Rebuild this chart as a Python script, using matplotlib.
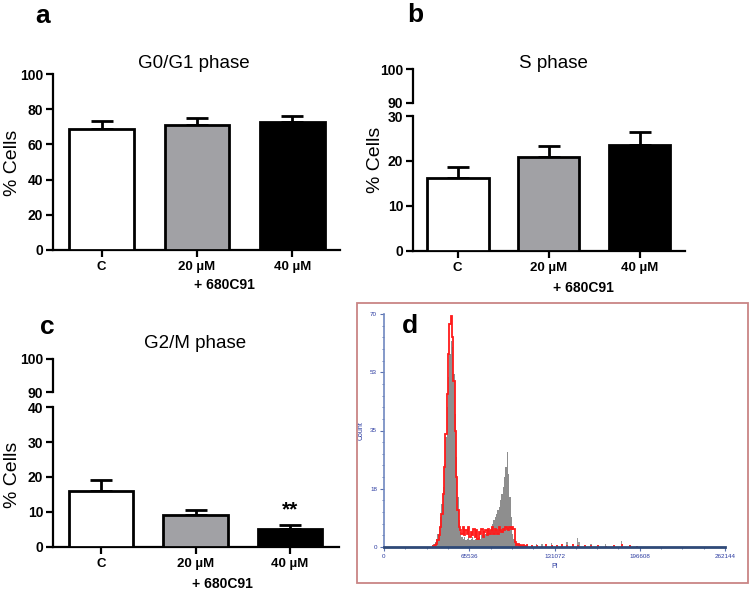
import matplotlib
matplotlib.use("Agg")
import matplotlib.pyplot as plt
from matplotlib.patches import Rectangle
import numpy as np

plt.rcParams['font.family'] = ['Liberation Sans', 'DejaVu Sans']

# ---------------- data ----------------
categories = ["C", "20 µM", "40 µM"]
bar_colors = ["white", "#a1a1a5", "black"]

g1_means = [68.7, 71.2, 72.5]
g1_errs = [4.6, 4.0, 3.5]

s_means = [16.2, 20.8, 23.6]
s_errs = [2.4, 2.5, 2.9]

g2_means = [16.1, 9.1, 5.0]
g2_errs = [3.1, 1.4, 1.2]

# flow cytometry histogram (bin width 1024 PI units, first bin index 36)
hist_bin_width = 1024
hist_first_bin = 36
red_counts = [0, 0.3, 0.5, 1, 2, 3.5, 6, 10, 16, 24, 34, 46, 58, 67, 69.5,
              63, 50, 35, 21, 11, 6, 5,
              4, 6, 3.5, 5, 4, 6, 3, 4.5, 3.5, 5.5, 3,
              5, 2.5, 4.5, 4, 5.5, 3, 4.5, 5, 3.5, 5.5, 4, 5, 6, 4, 5.5, 5,
              4, 6, 5, 4.5, 5.5, 5, 6, 5.5, 5, 6, 5.5, 6, 5.5, 1.5, 0.5,
              0.8, 0.3, 0.5, 0.3, 0.5, 0.4, 0.3, 0.5]
grey_counts = [0.5, 0.8, 1.5, 2.5, 4, 6, 9, 13, 18, 25, 33, 42, 51, 58, 62,
               60, 52, 40, 27, 15, 8, 4.5,
               3, 2.5, 3, 2, 2.5, 3, 2, 2.5, 3, 2, 2.5,
               3, 2.5, 3, 2.5, 3.5, 3, 3.5, 4, 3.5, 4.5, 5, 6, 7, 8, 9, 10,
               11, 12, 14, 16, 18, 21, 24, 28.5, 22, 15, 9, 4, 2.5, 1.5, 1,
               0.8, 0.5, 0.3, 0.4, 0.2, 0.3, 0.2, 0.3]
tail_bins = [110, 114, 118, 121, 125, 129, 133, 137, 141, 145, 146, 150, 155,
             160, 166, 172, 178, 184, 189]
tail_grey = [0.6, 0.8, 1.0, 0.5, 1.2, 0.7, 1.0, 1.5, 0.8, 2.8, 1.6, 0.6, 0.9,
             0.5, 0.8, 0.4, 1.8, 0.6, 0.3]
tail_red = [0.5, 0.6, 0.4, 0.8, 0.5, 0.7, 0.9, 0.6, 0.8, 0.7, 0.4, 0.6, 0.5,
            0.7, 0.4, 0.6, 0.8, 0.5, 0.3]
hist_xticks = [0, 65536, 131072, 196608, 262144]
hist_yticks = [0, 17.5, 35, 52.5, 70]
hist_yticklabels = ["0", "18", "35", "53", "70"]

W, H = 751, 593
fig = plt.figure(figsize=(W / 100, H / 100), dpi=100)


def frac(x0, y_top, x1, y_bot):
    return [x0 / W, 1 - y_bot / H, (x1 - x0) / W, (y_bot - y_top) / H]


LW = 1.6


def style_axis(ax, xlim, ylim, yticks, show_x=True):
    ax.set_xlim(*xlim)
    ax.set_ylim(*ylim)
    ax.set_yticks(yticks)
    for s in ["top", "right"]:
        ax.spines[s].set_visible(False)
    ax.spines["left"].set_linewidth(LW)
    ax.spines["bottom"].set_linewidth(LW)
    ax.tick_params(axis="both", direction="out", length=5, width=LW,
                   labelsize=10, pad=2)
    for lab in ax.get_yticklabels():
        lab.set_fontweight("bold")
    if show_x:
        ax.set_xticks(range(len(categories)))
        ax.set_xticklabels(categories, fontweight="bold", fontsize=9.5)
        ax.tick_params(axis="x", pad=3)
    else:
        ax.spines["bottom"].set_visible(False)
        ax.set_xticks([])


def draw_bars(ax, means, errs):
    x = np.arange(len(categories))
    ax.bar(x, means, width=0.68, color=bar_colors, edgecolor="black",
           linewidth=2.0, zorder=3)
    ax.errorbar(x, means, yerr=[np.zeros(len(errs)), errs], fmt="none",
                ecolor="black", elinewidth=2.0, capsize=8, capthick=2.0,
                zorder=2)


# ---------------- panel a ----------------
ax_a = fig.add_axes(frac(53, 74, 340, 250))
draw_bars(ax_a, g1_means, g1_errs)
style_axis(ax_a, (-0.51, 2.5), (0, 100), [0, 20, 40, 60, 80, 100])
fig.text(43 / W, 1 - 16 / H, "a", fontsize=19, fontweight="bold",
         ha="center", va="center")
fig.text(194 / W, 1 - 63 / H, "G0/G1 phase", fontsize=13.5, ha="center",
         va="center")
fig.text(13 / W, 1 - 163 / H, "% Cells", fontsize=14, rotation=90,
         ha="center", va="center")
fig.text(224 / W, 1 - 285 / H, "+ 680C91", fontsize=10, fontweight="bold",
         ha="center", va="center")

# ---------------- panel b ----------------
ax_b = fig.add_axes(frac(413, 116, 685, 250.7))
draw_bars(ax_b, s_means, s_errs)
style_axis(ax_b, (-0.49, 2.5), (0, 30), [0, 10, 20, 30])
ax_b_top = fig.add_axes(frac(413, 69.3, 685, 102.7))
style_axis(ax_b_top, (-0.49, 2.5), (90, 100), [90, 100], show_x=False)
ax_b_top.patch.set_alpha(0)
fig.text(415 / W, 1 - 15 / H, "b", fontsize=19, fontweight="bold",
         ha="center", va="center")
fig.text(553 / W, 1 - 63 / H, "S phase", fontsize=13.5, ha="center",
         va="center")
fig.text(375 / W, 1 - 160 / H, "% Cells", fontsize=14, rotation=90,
         ha="center", va="center")
fig.text(583 / W, 1 - 288 / H, "+ 680C91", fontsize=10, fontweight="bold",
         ha="center", va="center")

# ---------------- panel c ----------------
ax_c = fig.add_axes(frac(53, 407.3, 339, 546.7))
draw_bars(ax_c, g2_means, g2_errs)
style_axis(ax_c, (-0.51, 2.52), (0, 40), [0, 10, 20, 30, 40])
ax_c_top = fig.add_axes(frac(53, 358.7, 339, 392.3))
style_axis(ax_c_top, (-0.51, 2.52), (90, 100), [90, 100], show_x=False)
ax_c_top.patch.set_alpha(0)
ax_c.text(2, g2_means[2] + g2_errs[2] + 1.5, "**", fontsize=15,
          fontweight="bold", ha="center", va="bottom")
fig.text(47 / W, 1 - 327 / H, "c", fontsize=19, fontweight="bold",
         ha="center", va="center")
fig.text(195 / W, 1 - 343 / H, "G2/M phase", fontsize=13.5, ha="center",
         va="center")
fig.text(13 / W, 1 - 475 / H, "% Cells", fontsize=14, rotation=90,
         ha="center", va="center")
fig.text(222 / W, 1 - 584 / H, "+ 680C91", fontsize=10, fontweight="bold",
         ha="center", va="center")

# ---------------- panel d ----------------
fig.patches.append(Rectangle((357 / W, 1 - 583 / H), (748 - 357) / W,
                             (583 - 303) / H, transform=fig.transFigure,
                             fill=False, edgecolor="#c98585", linewidth=1.3))
ax_d = fig.add_axes(frac(384, 314, 725, 547))
n = len(grey_counts)
edges = (np.arange(n + 1) + hist_first_bin) * hist_bin_width
ax_d.stairs(grey_counts, edges, fill=True, color="#8e8e8e", zorder=2)
tail_edges_l = np.array(tail_bins) * hist_bin_width
ax_d.bar(tail_edges_l, tail_grey, width=hist_bin_width, align="edge",
         color="#9a9a9a", zorder=2)
ax_d.stairs(red_counts, edges, color="#ff1a1a", linewidth=1.3, zorder=3,
            baseline=None)
ax_d.bar(tail_edges_l, tail_red, width=hist_bin_width * 1.5, align="edge",
         color="#ff2a2a", zorder=3)
ax_d.set_xlim(0, 262144)
ax_d.set_ylim(0, 70)
ax_d.set_xticks(hist_xticks)
ax_d.set_xticklabels([str(v) for v in hist_xticks])
ax_d.set_xticks(np.arange(0, 262145, 16384), minor=True)
ax_d.set_yticks(hist_yticks)
ax_d.set_yticklabels(hist_yticklabels)
ax_d.set_yticks(np.arange(0, 70.1, 3.5), minor=True)
for s in ["top", "right"]:
    ax_d.spines[s].set_visible(False)
ax_d.spines["bottom"].set_color("#2f4a78")
ax_d.spines["bottom"].set_linewidth(2.0)
ax_d.spines["bottom"].set_zorder(4)
ax_d.spines["left"].set_color("#7088c0")
ax_d.spines["left"].set_linewidth(1.2)
ax_d.tick_params(axis="both", which="major", labelsize=4.5,
                 labelcolor="#2a3aa0", color="#5a70b0", length=3, width=0.8,
                 pad=2)
ax_d.tick_params(axis="both", which="minor", color="#5a70b0", length=1.5,
                 width=0.6)
ax_d.set_xlabel("PI", fontsize=5, color="#2a3aa0", labelpad=3)
ax_d.set_ylabel("Count", fontsize=5, color="#2a3aa0", labelpad=4)
fig.text(410 / W, 1 - 326 / H, "d", fontsize=19, fontweight="bold",
         ha="center", va="center")

fig.savefig("out.png", dpi=100)
